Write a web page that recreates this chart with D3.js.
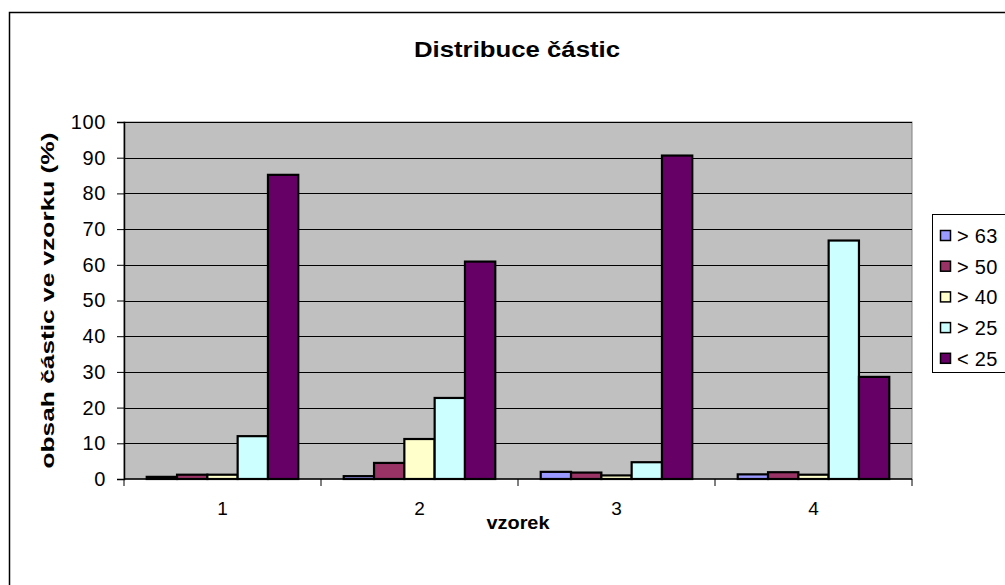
<!DOCTYPE html>
<html>
<head>
<meta charset="utf-8">
<script src="https://cdn.jsdelivr.net/npm/d3@7"></script>
<style>
  body { margin: 0; background: #fff; }
  svg { display: block; font-family: "Liberation Sans", Arial, sans-serif; }
</style>
</head>
<body>
<div id="chart"></div>
<script>
const categories = ["1", "2", "3", "4"];
const seriesNames = ["> 63", "> 50", "> 40", "> 25", "< 25"];
const seriesColors = ["#9999FF", "#993366", "#FFFFCC", "#CCFFFF", "#660066"];
const values = [
  [0.6, 1.2, 1.2, 12.0, 85.2],
  [0.8, 4.5, 11.2, 22.7, 60.9],
  [2.0, 1.8, 1.0, 4.7, 90.6],
  [1.3, 1.9, 1.2, 66.8, 28.6]
];
const yTicks = [0, 10, 20, 30, 40, 50, 60, 70, 80, 90, 100];

const width = 1005, height = 585;
const plot = { left: 124, right: 912, top: 122, bottom: 479 };
const FONT = "Liberation Sans, Arial, sans-serif";

const svg = d3.select("#chart").append("svg")
  .attr("width", width).attr("height", height);

// outer chart border
svg.append("rect")
  .attr("x", 9.5).attr("y", 12.5)
  .attr("width", 1010).attr("height", 600)
  .attr("fill", "#fff").attr("stroke", "#000").attr("stroke-width", 1.5);

svg.append("text")
  .attr("x", 517).attr("y", 57)
  .attr("text-anchor", "middle")
  .attr("font-size", 22).attr("font-weight", "bold")
  .attr("textLength", 206).attr("lengthAdjust", "spacingAndGlyphs")
  .text("Distribuce částic");

const x0 = d3.scaleBand().domain(categories).range([plot.left, plot.right]);
const bw = x0.bandwidth() / 6.5;
const x1 = d3.scaleBand().domain(seriesNames)
  .range([0.75 * bw, 5.75 * bw]);
const y = d3.scaleLinear().domain([0, 100]).range([plot.bottom, plot.top]);

// plot background
svg.append("rect")
  .attr("x", plot.left).attr("y", plot.top)
  .attr("width", plot.right - plot.left).attr("height", plot.bottom - plot.top)
  .attr("fill", "#C0C0C0").attr("stroke", "#808080").attr("stroke-width", 1);

// gridlines
svg.append("g").selectAll("line")
  .data(yTicks.filter(d => d > 0))
  .join("line")
  .attr("x1", plot.left).attr("x2", plot.right)
  .attr("y1", d => Math.round(y(d)) + 0.5).attr("y2", d => Math.round(y(d)) + 0.5)
  .attr("stroke", "#000").attr("stroke-width", 1);

// bars
const groups = svg.append("g").selectAll("g")
  .data(values)
  .join("g")
  .attr("transform", (d, i) => `translate(${x0(categories[i])},0)`);

groups.selectAll("rect")
  .data(d => d.map((v, j) => ({ v, name: seriesNames[j], color: seriesColors[j] })))
  .join("rect")
  .attr("x", d => x1(d.name))
  .attr("width", x1.bandwidth())
  .attr("y", d => y(d.v))
  .attr("height", d => plot.bottom - y(d.v))
  .attr("fill", d => d.color)
  .attr("stroke", "#000").attr("stroke-width", 2.2);

// y axis
const yAxis = svg.append("g")
  .attr("transform", `translate(${plot.left},0)`)
  .call(d3.axisLeft(y).tickValues(yTicks).tickSize(7).tickPadding(11));
yAxis.select(".domain").attr("stroke-width", 1.5);
yAxis.selectAll("text")
  .attr("font-size", 20).attr("font-family", FONT)
  .attr("letter-spacing", 0.6).attr("fill", "#000");

// x axis
const xAxis = svg.append("g")
  .attr("transform", `translate(0,${plot.bottom})`);
xAxis.append("line")
  .attr("x1", plot.left).attr("x2", plot.right)
  .attr("y1", 0).attr("y2", 0)
  .attr("stroke", "#000").attr("stroke-width", 1.5);
const boundaries = categories.map(c => x0(c)).concat([plot.right]);
xAxis.selectAll("line.tick")
  .data(boundaries)
  .join("line")
  .attr("class", "tick")
  .attr("x1", d => d).attr("x2", d => d)
  .attr("y1", 0).attr("y2", 7)
  .attr("stroke", "#000");
xAxis.selectAll("text")
  .data(categories)
  .join("text")
  .attr("x", d => x0(d) + x0.bandwidth() / 2)
  .attr("y", 36)
  .attr("text-anchor", "middle")
  .attr("font-size", 19)
  .text(d => d);

// axis titles
svg.append("text")
  .attr("x", 518).attr("y", 529)
  .attr("text-anchor", "middle")
  .attr("font-size", 18).attr("font-weight", "bold")
  .attr("textLength", 63).attr("lengthAdjust", "spacingAndGlyphs")
  .text("vzorek");
svg.append("text")
  .attr("transform", `translate(54,${(plot.top + plot.bottom) / 2}) rotate(-90)`)
  .attr("text-anchor", "middle")
  .attr("font-size", 18).attr("font-weight", "bold")
  .attr("textLength", 336).attr("lengthAdjust", "spacingAndGlyphs")
  .text("obsah částic ve vzorku (%)");

// legend
const legend = svg.append("g");
legend.append("rect")
  .attr("x", 932.5).attr("y", 214.5)
  .attr("width", 90).attr("height", 158)
  .attr("fill", "#fff").attr("stroke", "#000").attr("stroke-width", 1);
const items = legend.selectAll("g.item")
  .data(seriesNames)
  .join("g")
  .attr("class", "item")
  .attr("transform", (d, i) => `translate(940,${236 + i * 30.7})`);
items.append("rect")
  .attr("x", 0.5).attr("y", -5.5)
  .attr("width", 10).attr("height", 10)
  .attr("fill", (d, i) => seriesColors[i])
  .attr("stroke", "#000").attr("stroke-width", 1.5);
items.append("text")
  .attr("x", 17).attr("y", 7)
  .attr("font-size", 20)
  .attr("letter-spacing", 0.3)
  .text(d => d);
</script>
</body>
</html>
